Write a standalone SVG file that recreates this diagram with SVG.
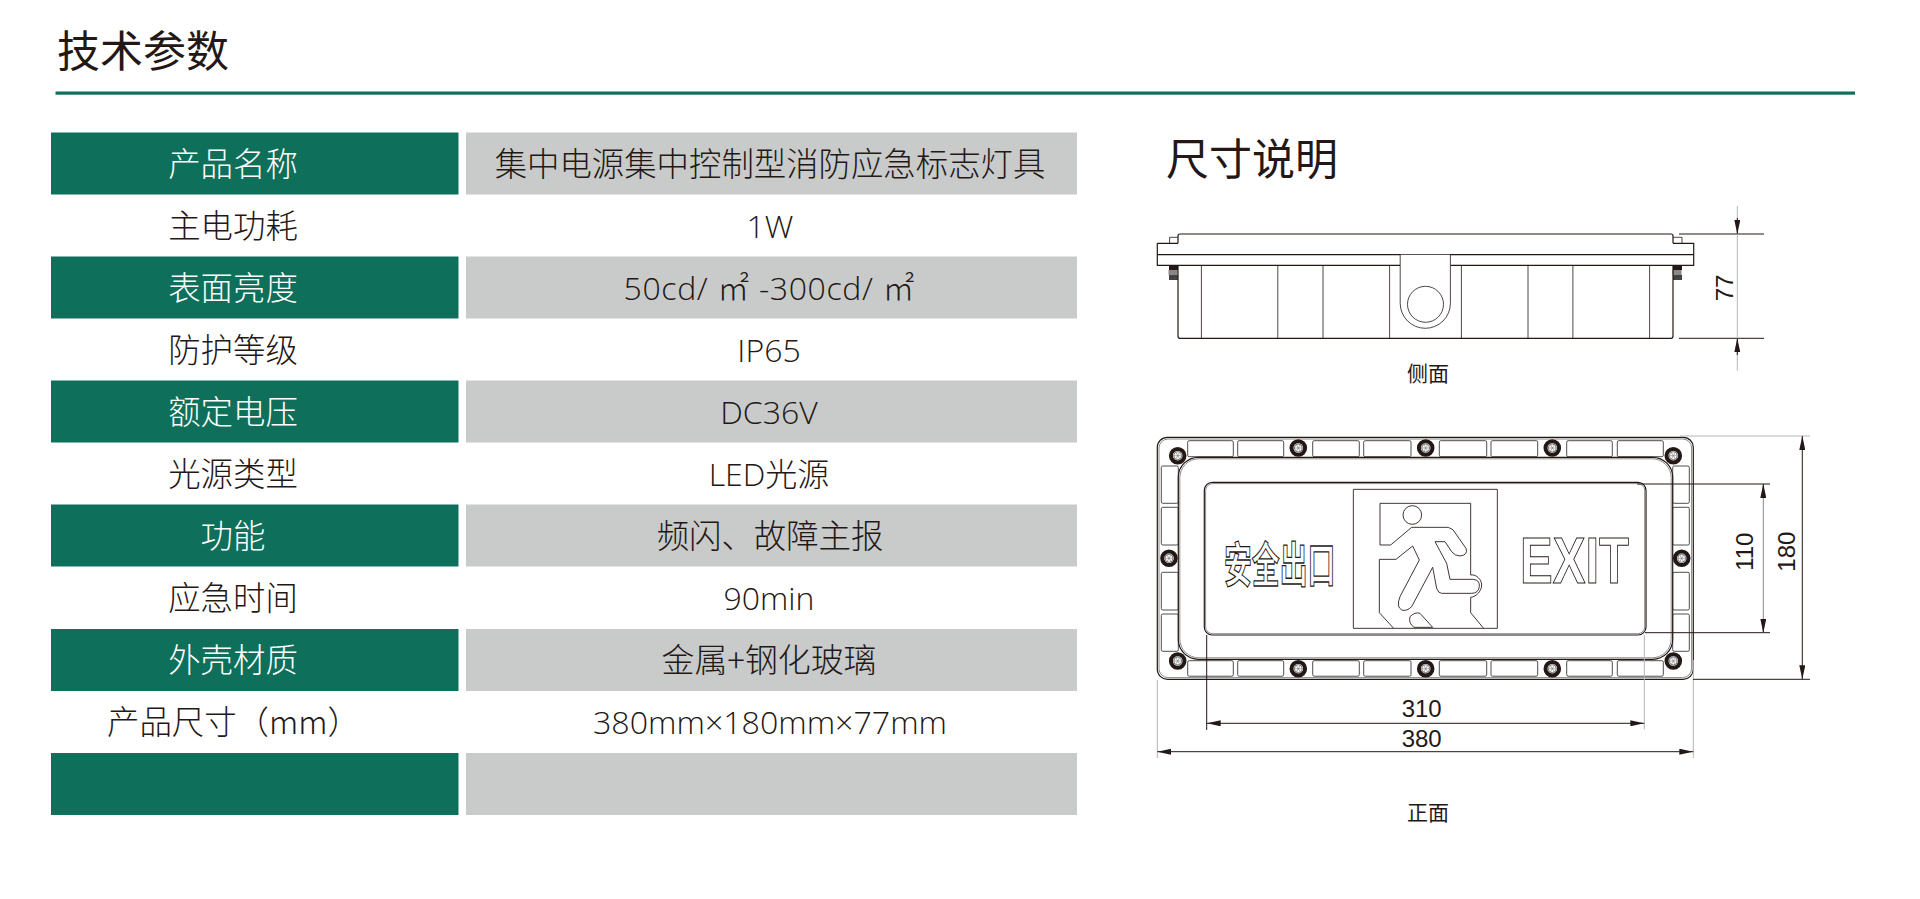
<svg xmlns="http://www.w3.org/2000/svg" width="1920" height="899" viewBox="0 0 1920 899">
<style>
text{font-family:"Noto Sans CJK SC","Noto Sans",sans-serif}
.h{font-size:43px;fill:#231815}
.c{font-size:32.4px;font-weight:300;text-anchor:middle;fill:#231815}
.w{fill:#fff}
.l{font-family:"Open Sans","Noto Sans CJK SC",sans-serif;font-size:32px;font-weight:300;text-anchor:middle;fill:#231815}
.g{fill:#0e705a}.y{fill:#c9caca}
.d{font-family:"Liberation Sans",sans-serif;font-size:24px;text-anchor:middle;fill:#231815}
.cap{font-size:21px;text-anchor:middle;fill:#231815}
.s{fill:none;stroke:#231815;stroke-width:1.2}
.t{fill:none;stroke:#231815;stroke-width:.8}
.m{fill:none;stroke:#8a8a8a;stroke-width:1}
.cell{fill:#fff;stroke:#3a3a3a;stroke-width:.9}
.dim{fill:none;stroke:#231815;stroke-width:1}
.ext{fill:none;stroke:#b5b5b5;stroke-width:1}
</style>
<defs>
<marker id="a" viewBox="0 0 14 6" refX="14" refY="3" markerUnits="userSpaceOnUse" markerWidth="14" markerHeight="6" orient="auto-start-reverse"><path d="M0,0L14,3L0,6Z" fill="#231815"/></marker>
<g id="screw"><circle r="6.8" fill="#fff" stroke="#231815" stroke-width="4"/><circle r="4" fill="none" stroke="#555" stroke-width=".8"/><path d="M-4,0H4M-2,-3.4L2,3.4M2,-3.4L-2,3.4" stroke="#777" stroke-width=".6"/></g>
<g id="sideScrew"><rect x="-4" y="0" width="9" height="5" fill="#231815"/><rect x="-4.5" y="5" width="9" height="5" fill="#888"/><rect x="-4" y="10" width="9" height="5" fill="#444"/></g>
</defs>
<rect width="1920" height="899" fill="#fff"/>

<g id="header">
<text class="h" x="57" y="67">技术参数</text>
<rect x="55.5" y="91.5" width="1799.5" height="3.2" fill="#0e705a"/>
<text class="h" x="1166" y="174.500">尺寸说明</text>
</g>

<g id="table">
<g id="row1"><rect class="g" x="51" y="132.500" width="407.5" height="62"/><rect class="y" x="466" y="132.500" width="611" height="62"/><text class="c w" x="233" y="176">产品名称</text><text class="c" x="770" y="176">集中电源集中控制型消防应急标志灯具</text></g>
<g id="row2"><text class="c" x="233" y="238">主电功耗</text><text class="l" x="770" y="238">1W</text></g>
<g id="row3"><rect class="g" x="51" y="256.500" width="407.5" height="62"/><rect class="y" x="466" y="256.500" width="611" height="62"/><text class="c w" x="233" y="300">表面亮度</text><text class="l" x="769" y="300" textLength="291" lengthAdjust="spacing">50cd/ ㎡ -300cd/ ㎡</text></g>
<g id="row4"><text class="c" x="233" y="362">防护等级</text><text class="l" x="769" y="362">IP65</text></g>
<g id="row5"><rect class="g" x="51" y="380.500" width="407.5" height="62"/><rect class="y" x="466" y="380.500" width="611" height="62"/><text class="c w" x="233" y="424">额定电压</text><text class="l" x="769" y="424">DC36V</text></g>
<g id="row6"><text class="c" x="233" y="486">光源类型</text><text class="l" x="769" y="486">LED光源</text></g>
<g id="row7"><rect class="g" x="51" y="504.500" width="407.5" height="62"/><rect class="y" x="466" y="504.500" width="611" height="62"/><text class="c w" x="233" y="548">功能</text><text class="c" x="770" y="548">频闪、故障主报</text></g>
<g id="row8"><text class="c" x="233" y="610">应急时间</text><text class="l" x="769" y="610">90min</text></g>
<g id="row9"><rect class="g" x="51" y="629" width="407.5" height="62"/><rect class="y" x="466" y="629" width="611" height="62"/><text class="c w" x="233" y="672">外壳材质</text><text class="c" x="769" y="672" textLength="215" lengthAdjust="spacingAndGlyphs">金属+钢化玻璃</text></g>
<g id="row10"><text class="c" x="107" y="734" style="text-anchor:start">产品尺寸（mm）</text><text class="l" x="770" y="734" textLength="354" lengthAdjust="spacingAndGlyphs">380mm×180mm×77mm</text></g>
<g id="row11"><rect class="g" x="51" y="753" width="407.5" height="62"/><rect class="y" x="466" y="753" width="611" height="62"/></g>
</g>

<g id="side-view">
<use href="#sideScrew" x="1173" y="265"/><use href="#sideScrew" x="1677" y="265"/>
<path class="t" d="M1169.6,243.3V237.3H1178M1673,237.3H1682V243.3"/>
<path class="s" d="M1178,243.3V236Q1178,234 1180,234H1671Q1673,234 1673,236V243.3"/>
<path class="s" d="M1157.3,243.3H1178M1673,243.3H1693.7V265.3H1450.4M1400.2,265.3H1157.3V243.3"/>
<path class="s" d="M1157.3,254.7H1693.7"/>
<path class="s" d="M1178,265.3V336Q1178,338.3 1180,338.3H1671Q1673,338.3 1673,336V265.3"/>
<path class="t" d="M1201.4,265.3V338.3M1277.8,265.3V338.3M1323,265.3V338.3M1389.6,265.3V338.3M1461.4,265.3V338.3M1528,265.3V338.3M1572.9,265.3V338.3M1649.6,265.3V338.3"/>
<path class="t" d="M1400.2,254.7V303.3A25.1,25 0 0 0 1450.4,303.3V254.7" style="fill:#fff"/>
<circle class="t" cx="1425.5" cy="304.3" r="18"/>
</g>

<g id="front-view">
<rect class="s" x="1157.3" y="437.3" width="536" height="242" rx="10"/>
<rect class="m" x="1159" y="439" width="532.6" height="238.6" rx="9"/>
<g id="cells">
<rect class="cell" x="1187.7" y="440.7" width="45.6" height="16" rx="1.5"/><rect class="cell" x="1237.7" y="440.7" width="46" height="16" rx="1.5"/><rect class="cell" x="1312.7" y="440.7" width="46.6" height="16" rx="1.5"/><rect class="cell" x="1363.7" y="440.7" width="47.3" height="16" rx="1.5"/><rect class="cell" x="1439.3" y="440.7" width="47.4" height="16" rx="1.5"/><rect class="cell" x="1491" y="440.7" width="46.7" height="16" rx="1.5"/><rect class="cell" x="1566.7" y="440.7" width="45.6" height="16" rx="1.5"/><rect class="cell" x="1617.3" y="440.7" width="46" height="16" rx="1.5"/>
<rect class="cell" x="1187.7" y="660.7" width="45.6" height="15.5" rx="1.5"/><rect class="cell" x="1237.7" y="660.7" width="46" height="15.5" rx="1.5"/><rect class="cell" x="1312.7" y="660.7" width="46.6" height="15.5" rx="1.5"/><rect class="cell" x="1363.7" y="660.7" width="47.3" height="15.5" rx="1.5"/><rect class="cell" x="1439.3" y="660.7" width="47.4" height="15.5" rx="1.5"/><rect class="cell" x="1491" y="660.7" width="46.7" height="15.5" rx="1.5"/><rect class="cell" x="1566.7" y="660.7" width="45.6" height="15.5" rx="1.5"/><rect class="cell" x="1617.3" y="660.7" width="46" height="15.5" rx="1.5"/>
<rect class="cell" x="1161.3" y="466" width="17" height="37.3" rx="1.5"/><rect class="cell" x="1161.3" y="507.3" width="17" height="37.7" rx="1.5"/><rect class="cell" x="1161.3" y="572.3" width="17" height="37.7" rx="1.5"/><rect class="cell" x="1161.3" y="614" width="17" height="37.3" rx="1.5"/>
<rect class="cell" x="1672.7" y="466" width="16.6" height="37.3" rx="1.5"/><rect class="cell" x="1672.7" y="507.3" width="16.6" height="37.7" rx="1.5"/><rect class="cell" x="1672.7" y="572.3" width="16.6" height="37.7" rx="1.5"/><rect class="cell" x="1672.7" y="614" width="16.6" height="37.3" rx="1.5"/>
</g>
<rect x="1178.3" y="457.3" width="494.4" height="202" rx="20" fill="#fff" stroke="#231815" stroke-width="1.2"/>
<rect class="m" x="1179.8" y="458.8" width="491.4" height="199" rx="19"/>
<rect class="s" x="1204.3" y="482.3" width="441.7" height="152.7" rx="8"/>
<rect class="m" x="1205.6" y="483.6" width="439.1" height="150.1" rx="7"/>
<g id="screws">
<use href="#screw" x="1177.7" y="455.7"/><use href="#screw" x="1298.3" y="448"/><use href="#screw" x="1425.7" y="448"/><use href="#screw" x="1552.3" y="448"/><use href="#screw" x="1673.3" y="455.7"/>
<use href="#screw" x="1177.7" y="661"/><use href="#screw" x="1298.3" y="668.7"/><use href="#screw" x="1425.7" y="668.7"/><use href="#screw" x="1552.3" y="668.7"/><use href="#screw" x="1673.3" y="661"/>
<use href="#screw" x="1169" y="558.3"/><use href="#screw" x="1681.7" y="558.3"/>
</g>
<g id="sign">
<text transform="translate(1224 582) scale(.58 1)" style="font-size:48px;font-weight:700;fill:#fff;stroke:#231815;stroke-width:1.3">安全出口</text>
<g transform="translate(1140 420) scale(.33333)" fill="none" stroke="#231815" stroke-width="2.6" stroke-linejoin="round">
<rect x="640" y="208" width="432" height="417"/>
<path d="M752,375H720V250H992V465C1010,462 1025,480 1025,495C1025,512 1010,530 992,532V578L1030,624"/>
<path d="M752,375L815,322H925Q940,325 950,345L978,385Q985,405 960,408Q945,408 935,395L915,365H885L920,430L930,478H1000Q1020,480 1018,500Q1015,520 995,520H905Q895,520 890,505L878,442L815,560Q800,575 785,570Q768,560 780,530L838,420L818,378L768,418H718V578L760,624"/>
<path d="M810,590Q825,575 840,580L878,622H822Q805,610 810,590Z"/>
<circle cx="817" cy="285" r="28"/>
</g>
<text x="1520" y="582.7" textLength="109" lengthAdjust="spacingAndGlyphs" style="font-family:'Liberation Sans',sans-serif;font-weight:700;font-size:64px;fill:#fff;stroke:#231815;stroke-width:1">EXIT</text>
</g>
</g>

<g id="connectors">
<path class="dim" d="M1679,234H1764M1679,338.3H1764"/>
<path class="ext" d="M1737.3,206V370.7"/>
<path class="dim" marker-end="url(#a)" d="M1737.3,218V234"/>
<path class="dim" marker-end="url(#a)" d="M1737.3,355V338.3"/>
<path class="ext" d="M1680,436H1810M1693.3,660V758M1157.3,680V758M1644.3,635V729.5"/>
<path class="dim" d="M1693,679.3H1810M1637,484H1770M1645,632.7H1770"/>
<path class="dim" d="M1206.7,635V730" stroke="#555"/>
<path class="dim" marker-start="url(#a)" marker-end="url(#a)" d="M1802.3,436V679.3"/>
<path class="ext" style="stroke:#8a8a8a" d="M1763.3,484V632.7"/>
<path class="dim" marker-end="url(#a)" d="M1763.3,498V484"/>
<path class="dim" marker-end="url(#a)" d="M1763.3,619V632.7"/>
<path class="dim" marker-start="url(#a)" marker-end="url(#a)" d="M1206.7,723.3H1644.3"/>
<path class="dim" marker-start="url(#a)" marker-end="url(#a)" d="M1157.3,751.7H1693.3"/>
</g>

<g id="labels">
<text class="d" transform="translate(1733 288) rotate(-90)">77</text>
<text class="d" transform="translate(1753 551.7) rotate(-90)">110</text>
<text class="d" transform="translate(1795 551.7) rotate(-90)">180</text>
<text class="d" x="1421.7" y="717">310</text>
<text class="d" x="1421.7" y="746.500">380</text>
<text class="cap" x="1428" y="380.500">侧面</text>
<text class="cap" x="1428" y="819.500">正面</text>
</g>
</svg>
